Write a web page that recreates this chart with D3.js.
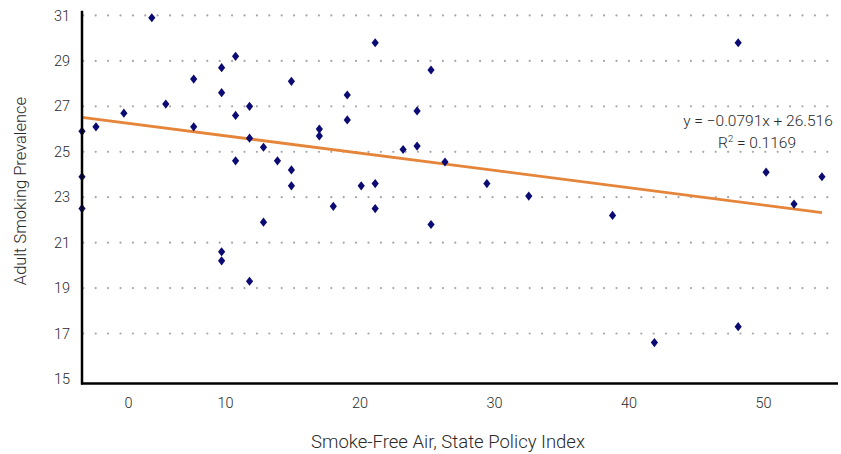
<!DOCTYPE html>
<html>
<head>
<meta charset="utf-8">
<script src="https://cdn.jsdelivr.net/npm/d3@7/dist/d3.min.js"></script>
<style>
  html, body { margin: 0; padding: 0; background: #fff; }
  svg text { font-family: Roboto, "Liberation Sans", Arial, sans-serif; font-weight: 300; fill: #2a2a2a; }
</style>
</head>
<body>
<svg id="chart" width="841" height="454"></svg>
<script>
// ---- Data ----
const policyIndex = [0,0,0,1,3,5,6,8,8,10,10,10,10,11,11,11,12,12,12,13,13,14,15,15,15,17,17,18,19,19,20,21,21,21,23,24,24,25,25,26,29,32,38,41,47,47,49,51,53];
const smokingPrevalence = [25.9,23.9,22.5,26.1,26.7,30.9,27.1,28.2,26.1,28.7,27.6,20.6,20.2,29.2,26.6,24.6,27.0,25.6,19.3,25.2,21.9,24.6,28.1,24.2,23.5,26.0,25.7,22.6,27.5,26.4,23.5,29.8,23.6,22.5,25.1,26.8,25.25,28.6,21.8,24.55,23.6,23.05,22.2,16.6,29.8,17.3,24.1,22.7,23.9];
const yTicks = [15,17,19,21,23,25,27,29,31];
const yGridValues = [17,19,21,23,25,27,29,31];
const xTickValues = [0,10,20,30,40,50];
const xTickLabels = ["0","10","20","30","40","50"];
const trendSlope = -0.0791;
const trendIntercept = 26.516;
const equationText = "y = \u22120.0791x + 26.516";
const rSquaredValue = "0.1169";
const xTitle = "Smoke-Free Air, State Policy Index";
const yTitle = "Adult Smoking Prevalence";

// ---- Layout ----
const svg = d3.select("#chart");
const pL = 82, pR = 838, pT = 10.7, pB = 383.5;
const FONT = "Roboto, 'Liberation Sans', Arial, sans-serif";

const x = d3.scaleLinear().domain([0, 54.15]).range([pL, pR]);
const y = d3.scaleLinear().domain([14.8, 31.21]).range([pB, pT]);
// axis labels in the reference sit on their own (slightly different) spacing
const xLabelScale = d3.scaleLinear().domain([10, 50]).range([225, 763]);

// gridlines (dotted)
svg.append("g").selectAll("line").data(yGridValues).join("line")
  .attr("x1", pL + 1.3).attr("x2", pR)
  .attr("y1", d => y(d)).attr("y2", d => y(d))
  .attr("stroke", "#a6a6a6").attr("stroke-width", 2.2)
  .attr("stroke-linecap", "round")
  .attr("stroke-dasharray", "0,12.4");

// trendline
const xExt = d3.extent(policyIndex);
svg.append("path")
  .datum(xExt)
  .attr("d", d3.line().x(d => x(d)).y(d => y(trendIntercept + trendSlope * d)))
  .attr("stroke", "#E5853A").attr("stroke-width", 2.8).attr("fill", "none");

// points (diamonds)
const pts = policyIndex.map((d, i) => [d, smokingPrevalence[i]]);
svg.append("g").selectAll("path").data(pts).join("path")
  .attr("transform", d => `translate(${x(d[0])},${y(d[1])})`)
  .attr("d", "M0,-4.6L3.6,0L0,4.6L-3.6,0Z")
  .attr("fill", "#0b0b73");

// axes lines
svg.append("line").attr("x1", pL).attr("x2", pL).attr("y1", pT).attr("y2", pB + 1)
  .attr("stroke", "#000").attr("stroke-width", 2.5);
svg.append("line").attr("x1", pL - 1).attr("x2", pR).attr("y1", pB).attr("y2", pB)
  .attr("stroke", "#000").attr("stroke-width", 2.5);

// y tick labels
const yAxis = d3.axisLeft(y).tickValues(yTicks).tickSize(0).tickPadding(12);
const yg = svg.append("g").attr("transform", `translate(${pL},0)`).call(yAxis);
yg.select(".domain").remove();
yg.selectAll("text").attr("font-size", 14.5).style("font-family", FONT).style("font-weight", 300).attr("fill", "#2a2a2a");

// x tick labels
const xAxis = d3.axisBottom(xLabelScale).tickValues(xTickValues).tickFormat((d, i) => xTickLabels[i]).tickSize(0).tickPadding(14);
const xg = svg.append("g").attr("transform", `translate(0,${pB})`).call(xAxis);
xg.select(".domain").remove();
xg.selectAll("text").attr("font-size", 14.5).style("font-family", FONT).style("font-weight", 300).attr("fill", "#2a2a2a")
  .attr("dx", d => d === 0 ? 37.5 : 0);

// axis titles
svg.append("text").attr("x", 448).attr("y", 448)
  .attr("text-anchor", "middle").attr("font-size", 18.5).text(xTitle);
svg.append("text").attr("transform", "translate(26,191) rotate(-90)")
  .attr("text-anchor", "middle").attr("font-size", 16.5).text(yTitle);

// equation
svg.append("text").attr("x", 758).attr("y", 125.5)
  .attr("text-anchor", "middle").attr("font-size", 15.5).text(equationText);
const r2 = svg.append("text").attr("x", 757).attr("y", 147.5)
  .attr("text-anchor", "middle").attr("font-size", 15.5);
r2.append("tspan").text("R");
r2.append("tspan").attr("font-size", 9.5).attr("dy", -6).text("2");
r2.append("tspan").attr("dy", 6).text(" = " + rSquaredValue);
</script>
</body>
</html>
